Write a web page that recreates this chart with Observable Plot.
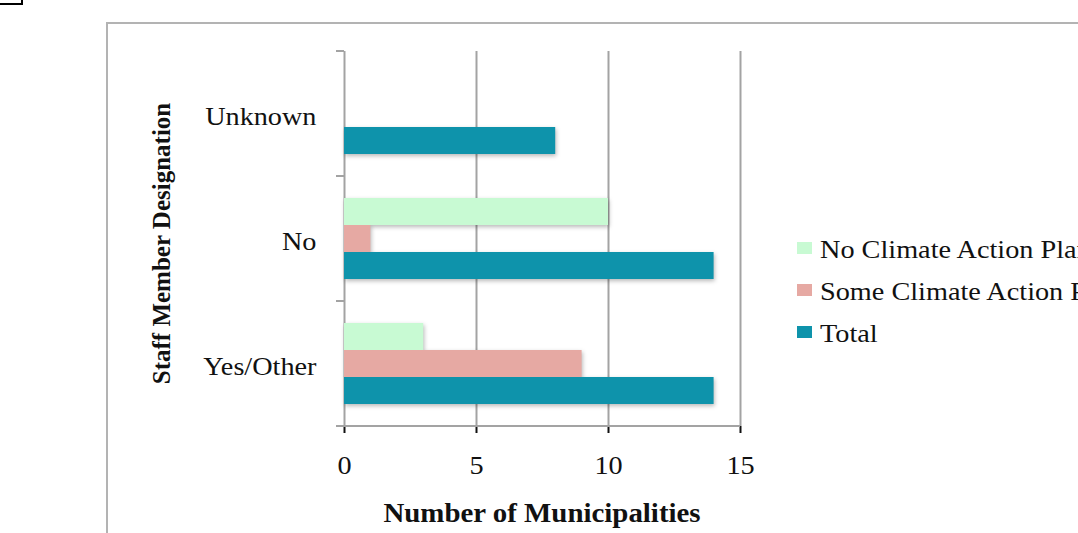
<!DOCTYPE html>
<html>
<head>
<meta charset="utf-8">
<script src="https://cdn.jsdelivr.net/npm/d3@7"></script>
<script src="https://cdn.jsdelivr.net/npm/@observablehq/plot@0.6"></script>
<style>
  html, body { margin: 0; padding: 0; background: #fff; }
  body { position: relative; width: 1078px; height: 533px; overflow: hidden; }
  #corner { position: absolute; left: -12px; top: -20px; width: 35px; height: 25px; box-sizing: border-box; border: 2px solid #000; }
  #frame { position: absolute; left: 106px; top: 22px; width: 2000px; height: 2000px; border-left: 2px solid #b3b3b3; border-top: 2px solid #b3b3b3; }
  #chart { position: absolute; left: 0; top: 0; }
  #legend { position: absolute; left: 797px; top: 227px; width: 600px; }
  #legend > div { margin: 0 !important; padding: 0 !important; width: 600px; font-family: "Liberation Serif", "Times New Roman", serif; font-size: 25px; color: #111; }
  #legend > div > div { height: 42px; padding: 0 !important; margin: 0 !important; display: flex; align-items: center; }
  #legend * { overflow: visible !important; text-overflow: clip !important; max-width: none !important; white-space: nowrap; }
  #legend svg { margin-right: 8px !important; flex-shrink: 0; }
  #legend > div > div > div { position: relative; top: 2px; transform: scaleX(1.13); transform-origin: 0 50%; }
</style>
</head>
<body>
<div id="corner"></div>
<div id="frame"></div>
<div id="chart"></div>
<div id="legend"></div>
<script>
// Staff member designation vs. climate action plan status
const categories = ["Unknown", "No", "Yes/Other"];
const series = ["No Climate Action Plan", "Some Climate Action Plan", "Total"];
const noPlan = [0, 10, 3];
const somePlan = [0, 1, 9];
const total = [8, 14, 14];
const xTicks = [0, 5, 10, 15];
const colors = ["#c8fad3", "#e6a9a3", "#0e93ab"];

const seriesValues = [noPlan, somePlan, total];
const rows = categories.flatMap((c, i) =>
  series.map((s, j) => ({category: c, series: s, value: seriesValues[j][i]}))
);

const gridColor = "#a3a3a3";
const widen = 1.13; // the serif lettering is set slightly wide

const chart = Plot.plot({
  width: 1078,
  height: 533,
  marginLeft: 344,
  marginRight: 338,
  marginTop: 50,
  marginBottom: 106,
  style: {
    fontFamily: '"Liberation Serif", "Times New Roman", serif',
    fontSize: "25px",
    color: "#111",
    background: "transparent",
    overflow: "visible"
  },
  x: {domain: [0, 15], axis: null},
  y: {domain: series, paddingInner: 0, paddingOuter: 0.77, axis: null},
  fy: {domain: categories, padding: 0, axis: null},
  color: {domain: series, range: colors},
  marks: [
    Plot.gridX(xTicks, {stroke: gridColor, strokeWidth: 2, strokeOpacity: 1}),
    Plot.barX(rows, {x: "value", y: "series", fy: "category", fill: "series"}),
    Plot.axisX({ticks: xTicks, tickSize: 7, tickPadding: 23, fontSize: 25, label: null}),
    Plot.axisFy({anchor: "left", tickSize: 0, tickPadding: 28, fontSize: 25, dy: 3, label: null})
  ]
});

document.getElementById("chart").append(chart);

const svg = d3.select(chart);
svg.selectAll('g[aria-label="bar"]')
  .style("filter", "drop-shadow(1px 2px 2px rgba(0,0,0,0.28))");
svg.selectAll('g[aria-label="x-axis tick"]')
  .attr("stroke", gridColor).attr("stroke-width", 2).attr("stroke-opacity", 1);
svg.selectAll('g[aria-label="x-axis tick label"], g[aria-label="fy-axis tick label"]')
  .attr("fill", "#111");

// Widen tick labels about their own anchor point
const svgNS = "http://www.w3.org/2000/svg";
svg.selectAll('g[aria-label="x-axis tick label"] text, g[aria-label="fy-axis tick label"] text')
  .each(function () {
    const tr = this.transform.baseVal.consolidate();
    const m = tr ? tr.matrix : null;
    const px = this.x.baseVal.length ? this.x.baseVal[0].value : 0;
    const py = this.y.baseVal.length ? this.y.baseVal[0].value : 0;
    const ax = m ? m.a * px + m.c * py + m.e : px;
    const ay = m ? m.b * px + m.d * py + m.f : py;
    const wrap = document.createElementNS(svgNS, "g");
    wrap.setAttribute("transform", `translate(${ax},${ay}) scale(${widen},1) translate(${-ax},${-ay})`);
    this.parentNode.insertBefore(wrap, this);
    wrap.appendChild(this);
  });

// Axis line along the bottom and category separators on the left axis
const x = chart.scale("x");
const fy = chart.scale("fy");
const x0 = x.apply(0);
const x1 = x.apply(xTicks[xTicks.length - 1]);
const bounds = categories.map((c) => fy.apply(c));
const bottom = bounds[bounds.length - 1] + fy.bandwidth;
bounds.push(bottom);

const deco = svg.append("g").attr("stroke", gridColor).attr("stroke-width", 2);
deco.selectAll("line.sep")
  .data(bounds)
  .join("line")
  .attr("x1", x0 - 8).attr("x2", x0)
  .attr("y1", (d) => d).attr("y2", (d) => d);
deco.append("line")
  .attr("x1", x0 - 8).attr("x2", x1)
  .attr("y1", bottom).attr("y2", bottom);

// Axis titles
svg.append("text")
  .attr("transform", `translate(${(x0 + x1) / 2},521.5) scale(1.07,1)`)
  .attr("text-anchor", "middle")
  .attr("font-weight", "bold")
  .attr("font-size", 27)
  .attr("fill", "#111")
  .text("Number of Municipalities");

svg.append("text")
  .attr("transform", `translate(170,${(bounds[0] + bottom) / 2 + 5}) rotate(-90)`)
  .attr("text-anchor", "middle")
  .attr("font-weight", "bold")
  .attr("font-size", 25)
  .attr("fill", "#111")
  .text("Staff Member Designation");

// Legend
const legend = chart.legend("color", {
  columns: 1,
  swatchWidth: 15,
  swatchHeight: 12,
  className: "lg"
});
document.getElementById("legend").append(legend);
</script>
</body>
</html>
